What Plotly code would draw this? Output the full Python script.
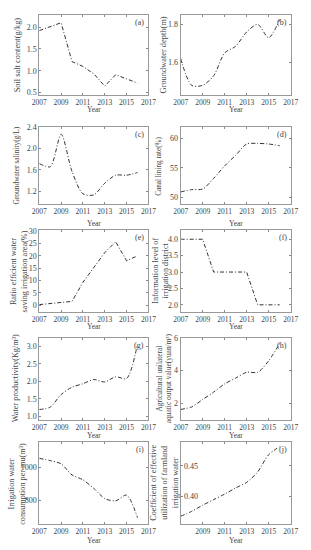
import plotly.graph_objects as go

# ---- data ----
years = [2007, 2008, 2009, 2010, 2011, 2012, 2013, 2014, 2015, 2016]
soil_salt = [1.92, 2.01, 2.10, 1.21, 1.10, 0.93, 0.65, 0.91, 0.82, 0.72]
gw_depth = [1.622, 1.48, 1.48, 1.53, 1.65, 1.685, 1.76, 1.80, 1.73, 1.825]
gw_salinity = [1.72, 1.66, 2.27, 1.57, 1.15, 1.13, 1.35, 1.50, 1.50, 1.55]
canal_lining = [50.9, 51.3, 51.4, 53.2, 55.3, 57.1, 59.0, 59.1, 59.0, 58.7]
water_saving = [0.3, 0.7, 1.0, 1.6, 9.3, 15.3, 21.3, 25.7, 18.0, 20.0]
info_level = [4, 4, 4, 3, 3, 3, 3, 2, 2, 2]
water_prod = [1.19, 1.26, 1.62, 1.83, 1.93, 2.05, 1.98, 2.13, 2.08, 3.07]
aquatic_value = [1.65, 1.80, 2.25, 2.70, 3.20, 3.55, 3.90, 3.90, 4.60, 5.65]
irrig_consumption = [1057, 1043, 1023, 955, 925, 872, 810, 796, 831, 693]
coef_util = [0.368, 0.376, 0.386, 0.395, 0.404, 0.414, 0.423, 0.440, 0.468, 0.481]

x_ticks = [2007, 2009, 2011, 2013, 2015, 2017]
x_title = "Year"

panels = [
    dict(y=soil_salt, label="(a)", title="Soil salt content(g/kg)",
         rng=[0.45, 2.28], tv=[0.5, 1.0, 1.5, 2.0], fmt=".1f", shape="linear"),
    dict(y=gw_depth, label="(b)", title="Groundwater depth(m)",
         rng=[1.43, 1.85], tv=[1.6, 1.8], fmt=".1f", shape="spline"),
    dict(y=gw_salinity, label="(c)", title="Groundwater salinity(g/L)",
         rng=[0.95, 2.4], tv=[1.2, 1.6, 2.0, 2.4], fmt=".1f", shape="spline"),
    dict(y=canal_lining, label="(d)", title="Canal lining rate(%)",
         rng=[48.8, 61.8], tv=[50, 55, 60], fmt="d", shape="spline"),
    dict(y=water_saving, label="(e)", title="Ratio efficient water<br>saving irrigation area(%)",
         rng=[-2.7, 30.4], tv=[0, 5, 10, 15, 20, 25, 30], fmt="d", shape="linear"),
    dict(y=info_level, label="(f)", title="Information level of<br>irrigation district",
         rng=[1.78, 4.28], tv=[2.0, 2.5, 3.0, 3.5, 4.0], fmt=".1f", shape="linear"),
    dict(y=water_prod, label="(g)", title="Water productivity(Kg/m³)",
         rng=[0.9, 3.25], tv=[1.0, 1.5, 2.0, 2.5, 3.0], fmt=".1f", shape="spline"),
    dict(y=aquatic_value, label="(h)", title="Agricultural unilateral<br>aquatic output value(yuan/m³)",
         rng=[1.03, 6.0], tv=[2, 4, 6], fmt="d", shape="spline"),
    dict(y=irrig_consumption, label="(i)", title="Irrigation water<br>consumption per mu(m³)",
         rng=[652, 1155], tv=[800, 1000], fmt="d", shape="spline"),
    dict(y=coef_util, label="(j)", title="Coefficient of effective<br>utilization of farmland<br>irrigation water",
         rng=[0.355, 0.488], tv=[0.40, 0.45], fmt=".2f", shape="spline"),
]

W, H = 311, 550
col_x = [(33, 148), (182, 298)]
row_y = [(11, 92), (125, 203), (229, 312), (338, 421), (444, 527)]
year_y = [107, 222, 327, 437, 543]
title_x = [10, 164, 9, 159, 12, 161, 8, 165, 10, 165]
title_size = [8.4, 8.4, 7.4, 7.2, 8.2, 8.2, 8.2, 7.4, 8.2, 8.2]

FONT = "Liberation Serif"
TXT = "#444"

fig = go.Figure()
layout = dict(width=W, height=H, margin=dict(l=0, r=0, t=0, b=0),
              paper_bgcolor="white", plot_bgcolor="white", showlegend=False,
              font=dict(family=FONT, size=7, color=TXT))
annotations = []

for i, p in enumerate(panels):
    r, c = divmod(i, 2)
    n = i + 1
    xs = "" if n == 1 else str(n)
    x0, x1 = col_x[c]
    y0, y1 = row_y[r]
    fig.add_trace(go.Scatter(
        x=years, y=p["y"], mode="lines", xaxis="x" + xs, yaxis="y" + xs,
        line=dict(color="#333", width=1, dash="4px,2px,1px,2px", shape=p["shape"], smoothing=0.8),
        hoverinfo="skip"))
    layout["xaxis" + xs] = dict(
        domain=[x0 / W, x1 / W], anchor="y" + xs, range=[2007, 2017],
        tickvals=x_ticks, ticks="inside", ticklen=2, tickcolor="#888",
        showline=True, linecolor="#999", linewidth=1, mirror="allticks",
        showgrid=False, zeroline=False, tickfont=dict(size=7.5, family=FONT, color=TXT))
    ydict = dict(
        domain=[1 - y1 / H, 1 - y0 / H], anchor="x" + xs, range=p["rng"],
        tickvals=p["tv"], tickformat=p["fmt"], ticks="inside", ticklen=2,
        tickcolor="#888", showline=True, linecolor="#999", linewidth=1,
        mirror="allticks", showgrid=False, zeroline=False,
        tickfont=dict(size=8, family=FONT, color=TXT))
    if p["label"] == "(j)":
        ydict["ticklabelposition"] = "inside"
    layout["yaxis" + xs] = ydict
    annotations.append(dict(
        text=p["label"], xref="paper", yref="paper", x=(x1 - 2) / W, y=1 - (y0 + 1) / H,
        xanchor="right", yanchor="top", showarrow=False,
        font=dict(size=8, family=FONT, color=TXT)))
    annotations.append(dict(
        text=p["title"], xref="paper", yref="paper", x=title_x[i] / W,
        y=1 - ((y0 + y1) / 2) / H, xanchor="center", yanchor="middle",
        textangle=-90, showarrow=False,
        font=dict(size=title_size[i], family=FONT, color=TXT)))
    annotations.append(dict(
        text=x_title, xref="paper", yref="paper", x=((x0 + x1) / 2) / W,
        y=1 - year_y[r] / H, xanchor="center", yanchor="middle", showarrow=False,
        font=dict(size=7.5, family=FONT, color=TXT)))

layout["annotations"] = annotations
fig.update_layout(**layout)
fig.write_html(
    "out.html",
    config={"displayModeBar": False, "staticPlot": True},
    post_script="document.body.style.margin='0';document.body.style.overflow='hidden';"
                "document.documentElement.style.overflow='hidden';")
